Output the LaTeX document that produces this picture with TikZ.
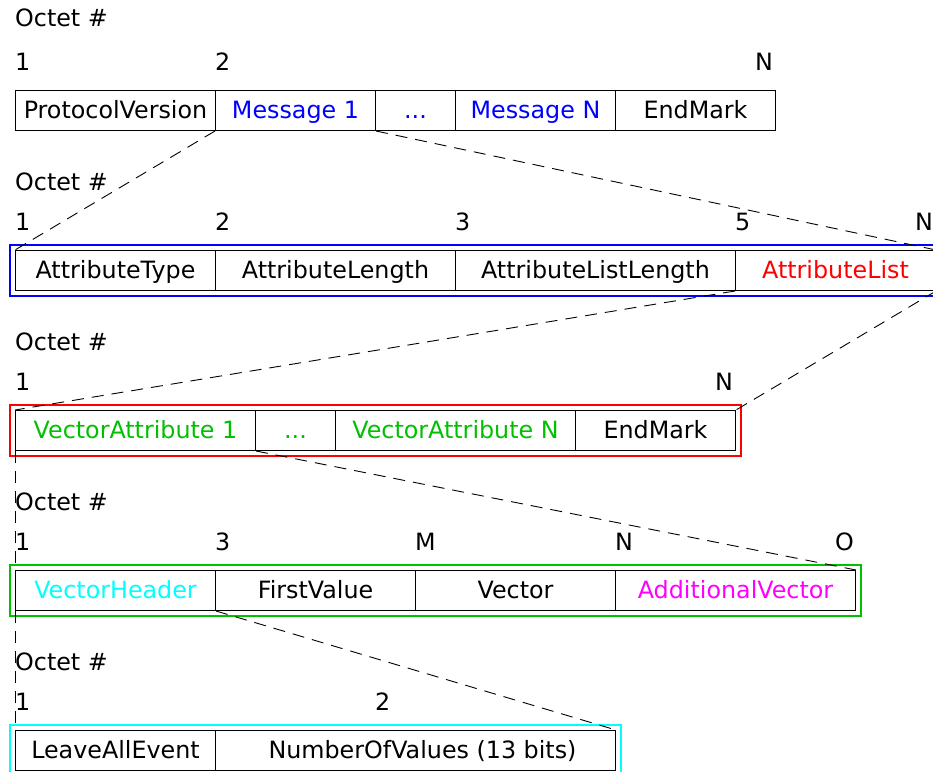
\documentclass[tikz,border=0pt]{standalone}
\usepackage{fontspec}
\setmainfont{DejaVu Sans}
\definecolor{cblue}{RGB}{0,0,255}
\definecolor{cgreen}{RGB}{0,192,0}
\definecolor{ccyan}{RGB}{0,255,255}
\definecolor{cmag}{RGB}{255,0,255}
\definecolor{cred}{RGB}{255,0,0}
\begin{document}
\begin{tikzpicture}[x=1pt,y=-1pt,
  every node/.style={font=\fontsize{23.8}{28}\selectfont},
  cell/.style={draw=black,line width=1pt,rectangle,inner sep=0pt,minimum height=40pt,
    text height=19pt,text depth=3pt,anchor=north west},
  lbl/.style={anchor=base west,inner sep=0pt},
  zoomline/.style={draw=black,line width=0.9pt,dash pattern=on 12pt off 8pt},
  frame/.style={line width=1.1pt}]
\useasboundingbox (0,0) rectangle (933,771);
% ---------- Row 1
\node[lbl] (o1) at (15,27) {Octet \#};
\node[lbl] (r1a) at (15,70) {1};
\node[lbl] (r1b) at (215,70) {2};
\node[lbl] (r1c) at (755,70) {N};
\node[cell,minimum width=200pt] (pv) at (15,90) {ProtocolVersion};
\node[cell,minimum width=160pt,text=cblue] (m1) at (215,90) {Message 1};
\node[cell,minimum width=80pt,text=cblue] (md) at (375,90) {...};
\node[cell,minimum width=160pt,text=cblue] (mn) at (455,90) {Message N};
\node[cell,minimum width=160pt] (em1) at (615,90) {EndMark};
% ---------- Row 2
\node[lbl] (o2) at (15,190) {Octet \#};
\node[lbl] (r2a) at (15,230) {1};
\node[lbl] (r2b) at (215,230) {2};
\node[lbl] (r2c) at (455,230) {3};
\node[lbl] (r2d) at (735,230) {5};
\node[lbl] (r2e) at (915,230) {N};
\node[cell,minimum width=200pt] (at) at (15,250) {AttributeType};
\node[cell,minimum width=240pt] (alen) at (215,250) {AttributeLength};
\node[cell,minimum width=280pt] (alist) at (455,250) {AttributeListLength};
\node[cell,minimum width=200pt,text=cred] (al) at (735,250) {AttributeList};
\draw[frame,draw=cblue] ([shift={(-5,-5)}]at.north west) rectangle ([shift={(5,5)}]al.south east);
% ---------- Row 3
\node[lbl] (o3) at (15,350) {Octet \#};
\node[lbl] (r3a) at (15,390) {1};
\node[lbl] (r3b) at (715,390) {N};
\node[cell,minimum width=240pt,text=cgreen] (va1) at (15,410) {VectorAttribute 1};
\node[cell,minimum width=80pt,text=cgreen] (vad) at (255,410) {...};
\node[cell,minimum width=240pt,text=cgreen] (van) at (335,410) {VectorAttribute N};
\node[cell,minimum width=160pt] (em3) at (575,410) {EndMark};
\draw[frame,draw=cred] ([shift={(-5,-5)}]va1.north west) rectangle ([shift={(5,5)}]em3.south east);
% ---------- Row 4
\node[lbl] (o4) at (15,510) {Octet \#};
\node[lbl] (r4a) at (15,550) {1};
\node[lbl] (r4b) at (215,550) {3};
\node[lbl] (r4c) at (415,550) {M};
\node[lbl] (r4d) at (615,550) {N};
\node[lbl] (r4e) at (835,550) {O};
\node[cell,minimum width=200pt,text=ccyan] (vh) at (15,570) {VectorHeader};
\node[cell,minimum width=200pt] (fv) at (215,570) {FirstValue};
\node[cell,minimum width=200pt] (vec) at (415,570) {Vector};
\node[cell,minimum width=240pt,text=cmag] (av) at (615,570) {AdditionalVector};
\draw[frame,draw=cgreen] ([shift={(-5,-5)}]vh.north west) rectangle ([shift={(5,5)}]av.south east);
% ---------- Row 5
\node[lbl] (o5) at (15,670) {Octet \#};
\node[lbl] (r5a) at (15,710) {1};
\node[lbl] (r5b) at (375,710) {2};
\node[cell,minimum width=200pt] (lae) at (15,730) {LeaveAllEvent};
\node[cell,minimum width=400pt] (nov) at (215,730) {\hspace*{14pt}NumberOfValues (13 bits)};
\draw[frame,draw=ccyan] ([shift={(-5,-5)}]lae.north west) rectangle ([shift={(5,5)}]nov.south east);
% ---------- zoom connectors
\draw[zoomline] (m1.south west) -- (at.north west);
\draw[zoomline] (m1.south east) -- (al.north east);
\draw[zoomline] (al.south west) -- (va1.north west);
\draw[zoomline] (al.south east) -- (em3.north east);
\draw[zoomline] (va1.south west) -- (vh.north west);
\draw[zoomline] (va1.south east) -- (av.north east);
\draw[zoomline] (vh.south west) -- (lae.north west);
\draw[zoomline] (vh.south east) -- (nov.north east);
\end{tikzpicture}
\end{document}
